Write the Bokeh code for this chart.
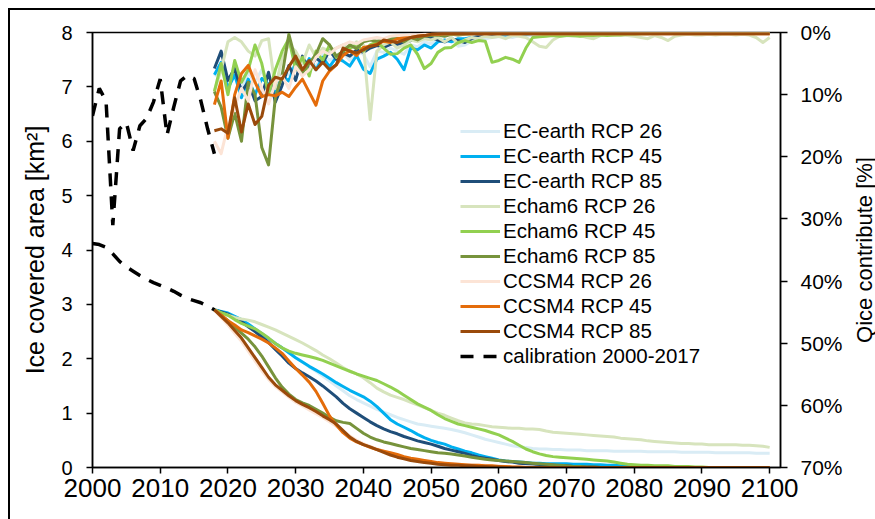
from bokeh.plotting import figure
from bokeh.layouts import row
from bokeh.models import (Range1d, LinearAxis, FixedTicker, PrintfTickFormatter,
                          Legend, LegendItem)
from bokeh.embed import file_html
from bokeh.resources import INLINE

FONT = "Liberation Sans"

model_years = list(range(2018, 2101))
cal_years = list(range(2000, 2019))
x_ticks = [2000, 2010, 2020, 2030, 2040, 2050, 2060, 2070, 2080, 2090, 2100]
area_ticks = [0, 1, 2, 3, 4, 5, 6, 7, 8]
q_ticks = [0, 10, 20, 30, 40, 50, 60, 70]

series_names = ["EC-earth RCP 26", "EC-earth RCP 45", "EC-earth RCP 85",
                "Echam6 RCP 26", "Echam6 RCP 45", "Echam6 RCP 85",
                "CCSM4 RCP 26", "CCSM4 RCP 45", "CCSM4 RCP 85"]
series_colors = ["#d9ecf5", "#00b0f0", "#1f4e79",
                 "#d7e4bd", "#92d050", "#77933c",
                 "#fce4d6", "#e46c0a", "#9a4a0b"]
cal_name = "calibration 2000-2017"

# ---- ice covered area [km2], 2018-2100 ----
ec26_area = [2.90, 2.86, 2.82, 2.76, 2.70, 2.63, 2.55, 2.47, 2.38, 2.29,
             2.20, 2.11, 2.02, 1.94, 1.85, 1.77, 1.68, 1.59, 1.50, 1.41,
             1.32, 1.25, 1.19, 1.13, 1.07, 1.02, 0.97, 0.92, 0.88, 0.84,
             0.80, 0.78, 0.76, 0.74, 0.72, 0.70, 0.67, 0.64, 0.60, 0.56,
             0.52, 0.49, 0.46, 0.43, 0.40, 0.38, 0.37, 0.35, 0.34, 0.34,
             0.33, 0.33, 0.32, 0.32, 0.32, 0.31, 0.31, 0.31, 0.31, 0.30,
             0.30, 0.30, 0.30, 0.30, 0.29, 0.29, 0.29, 0.29, 0.29, 0.28,
             0.28, 0.28, 0.28, 0.28, 0.27, 0.27, 0.27, 0.27, 0.27, 0.27,
             0.26, 0.26, 0.26]
ec45_area = [2.90, 2.87, 2.84, 2.78, 2.72, 2.64, 2.55, 2.46, 2.37, 2.28,
             2.20, 2.11, 2.02, 1.94, 1.86, 1.79, 1.72, 1.64, 1.56, 1.49,
             1.42, 1.36, 1.30, 1.22, 1.12, 1.00, 0.88, 0.80, 0.74, 0.68,
             0.61, 0.55, 0.50, 0.46, 0.43, 0.38, 0.34, 0.30, 0.27, 0.23,
             0.20, 0.17, 0.14, 0.12, 0.11, 0.10, 0.09, 0.08, 0.08, 0.07,
             0.07, 0.07, 0.07, 0.06, 0.06, 0.06, 0.05, 0.05, 0.04, 0.04,
             0.03, 0.02, 0.01, 0, 0, 0, 0, 0, 0, 0,
             0, 0, 0, 0, 0, 0, 0, 0, 0, 0,
             0, 0, 0]
ec85_area = [2.90, 2.86, 2.82, 2.75, 2.68, 2.59, 2.50, 2.40, 2.30, 2.17,
             2.05, 1.92, 1.82, 1.74, 1.67, 1.59, 1.50, 1.40, 1.30, 1.18,
             1.08, 1.00, 0.92, 0.84, 0.77, 0.71, 0.66, 0.62, 0.57, 0.53,
             0.49, 0.46, 0.43, 0.39, 0.35, 0.32, 0.29, 0.26, 0.22, 0.19,
             0.17, 0.15, 0.13, 0.11, 0.10, 0.08, 0.07, 0.06, 0.05, 0.05,
             0.04, 0.03, 0.03, 0.02, 0.02, 0.01, 0.01, 0, 0, 0,
             0, 0, 0, 0, 0, 0, 0, 0, 0, 0,
             0, 0, 0, 0, 0, 0, 0, 0, 0, 0,
             0, 0, 0]
e626_area = [2.90, 2.84, 2.80, 2.76, 2.73, 2.71, 2.68, 2.63, 2.58, 2.53,
             2.47, 2.41, 2.35, 2.29, 2.22, 2.15, 2.07, 2.00, 1.92, 1.84,
             1.77, 1.72, 1.65, 1.56, 1.46, 1.39, 1.33, 1.29, 1.25, 1.20,
             1.15, 1.10, 1.05, 1.00, 0.96, 0.91, 0.86, 0.82, 0.80, 0.79,
             0.77, 0.75, 0.74, 0.73, 0.72, 0.72, 0.71, 0.71, 0.70, 0.67,
             0.65, 0.64, 0.63, 0.62, 0.61, 0.60, 0.59, 0.58, 0.57, 0.56,
             0.54, 0.53, 0.52, 0.51, 0.49, 0.48, 0.47, 0.46, 0.45, 0.44,
             0.44, 0.43, 0.43, 0.42, 0.42, 0.42, 0.42, 0.42, 0.41, 0.41,
             0.40, 0.39, 0.37]
e645_area = [2.90, 2.85, 2.80, 2.72, 2.65, 2.60, 2.55, 2.47, 2.38, 2.28,
             2.20, 2.14, 2.10, 2.07, 2.04, 2.01, 1.97, 1.92, 1.87, 1.82,
             1.77, 1.72, 1.68, 1.64, 1.60, 1.54, 1.48, 1.41, 1.33, 1.25,
             1.17, 1.11, 1.05, 0.97, 0.90, 0.85, 0.80, 0.77, 0.74, 0.71,
             0.68, 0.64, 0.60, 0.54, 0.48, 0.41, 0.34, 0.29, 0.25, 0.22,
             0.20, 0.19, 0.18, 0.17, 0.16, 0.15, 0.14, 0.13, 0.12, 0.10,
             0.08, 0.06, 0.05, 0.04, 0.04, 0.03, 0.03, 0.03, 0.02, 0.02,
             0.02, 0.01, 0.01, 0, 0, 0, 0, 0, 0, 0,
             0, 0, 0]
e685_area = [2.90, 2.80, 2.70, 2.58, 2.47, 2.36, 2.22, 2.05, 1.85, 1.65,
             1.48, 1.35, 1.25, 1.19, 1.14, 1.07, 1.00, 0.92, 0.86, 0.83,
             0.81, 0.72, 0.63, 0.56, 0.51, 0.47, 0.44, 0.41, 0.38, 0.35,
             0.33, 0.31, 0.29, 0.27, 0.26, 0.25, 0.23, 0.21, 0.19, 0.17,
             0.15, 0.14, 0.13, 0.12, 0.11, 0.10, 0.09, 0.08, 0.07, 0.06,
             0.05, 0.04, 0.03, 0.02, 0.02, 0.01, 0.01, 0, 0, 0,
             0, 0, 0, 0, 0, 0, 0, 0, 0, 0,
             0, 0, 0, 0, 0, 0, 0, 0, 0, 0,
             0, 0, 0]
c26_area = [2.90, 2.76, 2.62, 2.47, 2.32, 2.14, 1.96, 1.78, 1.62, 1.49,
            1.39, 1.29, 1.20, 1.13, 1.06, 0.99, 0.92, 0.84, 0.76, 0.67,
            0.58, 0.50, 0.44, 0.39, 0.34, 0.30, 0.26, 0.22, 0.19, 0.16,
            0.14, 0.12, 0.10, 0.09, 0.08, 0.07, 0.06, 0.05, 0.05, 0.04,
            0.04, 0.03, 0.03, 0.02, 0.02, 0.02, 0.01, 0.01, 0, 0,
            0, 0, 0, 0, 0, 0, 0, 0, 0, 0,
            0, 0, 0, 0, 0, 0, 0, 0, 0, 0,
            0, 0, 0, 0, 0, 0, 0, 0, 0, 0,
            0, 0, 0]
c45_area = [2.90, 2.80, 2.70, 2.62, 2.53, 2.48, 2.42, 2.36, 2.29, 2.20,
            2.10, 1.96, 1.82, 1.70, 1.57, 1.40, 1.18, 0.95, 0.78, 0.64,
            0.54, 0.47, 0.42, 0.37, 0.33, 0.30, 0.27, 0.24, 0.20, 0.17,
            0.15, 0.13, 0.11, 0.09, 0.08, 0.07, 0.06, 0.05, 0.04, 0.04,
            0.03, 0.03, 0.02, 0.02, 0.01, 0.01, 0, 0, 0, 0,
            0, 0, 0, 0, 0, 0, 0, 0, 0, 0,
            0, 0, 0, 0, 0, 0, 0, 0, 0, 0,
            0, 0, 0, 0, 0, 0, 0, 0, 0, 0,
            0, 0, 0]
c85_area = [2.90, 2.78, 2.66, 2.52, 2.38, 2.20, 2.02, 1.84, 1.66, 1.52,
            1.42, 1.32, 1.23, 1.16, 1.10, 1.03, 0.95, 0.88, 0.80, 0.68,
            0.56, 0.48, 0.42, 0.38, 0.33, 0.28, 0.23, 0.19, 0.16, 0.13,
            0.11, 0.09, 0.08, 0.06, 0.05, 0.04, 0.04, 0.03, 0.03, 0.02,
            0.02, 0.01, 0.01, 0, 0, 0, 0, 0, 0, 0,
            0, 0, 0, 0, 0, 0, 0, 0, 0, 0,
            0, 0, 0, 0, 0, 0, 0, 0, 0, 0,
            0, 0, 0, 0, 0, 0, 0, 0, 0, 0,
            0, 0, 0]

# ---- Qice contribute [%], 2018-2100 (right, reversed axis) ----
ec26_q = [7.0, 6.0, 8.5, 5.5, 9.0, 6.5, 8.0, 6.0, 9.0, 8.0,
          6.5, 6.8, 5.5, 5.0, 4.5, 5.5, 3.5, 4.5, 3.8, 3.2,
          4.5, 3.0, 3.5, 5.5, 3.0, 3.2, 2.5, 3.0, 3.5, 2.0,
          2.3, 1.5, 1.8, 1.2, 1.6, 1.0, 2.2, 2.0, 1.4, 0.9,
          1.0, 0.8, 0.7, 0.6, 0.8, 0.5, 0.6, 0.4, 0.5, 0.4,
          0.3, 0.3, 0.4, 0.3, 0.3, 0.3, 0.2, 0.3, 0.2, 0.3,
          0.2, 0.2, 0.2, 0.2, 0.2, 0.2, 0.2, 0.2, 0.1, 0.2,
          0.1, 0.1, 0.2, 0.1, 0.1, 0.1, 0.1, 0.1, 0.1, 0.1,
          0.1, 0.1, 0.1]
ec45_q = [6.8, 4.8, 9.0, 6.8, 10.5, 7.5, 10.0, 7.4, 8.3, 9.5,
          7.0, 7.8, 4.8, 6.5, 4.2, 6.0, 4.0, 5.5, 4.0, 4.6,
          5.4, 3.7, 5.9, 6.6, 4.3, 3.8, 3.2, 4.3, 6.0, 2.5,
          2.8, 2.0, 2.5, 1.5, 1.2, 1.5, 1.0, 1.0, 0.8, 0.6,
          0.5, 0.5, 0.4, 0.4, 0.3, 0.3, 0.3, 0.2, 0.2, 0.1,
          0.1, 0.1, 0.1, 0.1, 0.1, 0.1, 0.1, 0.1, 0.1, 0.1,
          0.1, 0.1, 0.1, 0.1, 0.1, 0.1, 0.1, 0.1, 0.1, 0.1,
          0.1, 0.1, 0.1, 0.1, 0.1, 0.1, 0.1, 0.1, 0.1, 0.1,
          0.1, 0.1, 0.1]
ec85_q = [5.8, 3.0, 7.7, 5.8, 9.5, 8.0, 11.0, 10.3, 6.4, 11.2,
          8.5, 5.3, 7.7, 3.8, 5.9, 4.1, 4.9, 2.9, 4.3, 3.3,
          3.8, 2.8, 3.2, 2.5, 2.1, 2.4, 1.9, 1.9, 1.7, 1.3,
          1.0, 0.8, 0.8, 1.2, 1.5, 1.0, 1.3, 1.6, 1.0, 0.6,
          0.4, 0.3, 0.2, 0.2, 0.2, 0.1, 0.1, 0.1, 0.1, 0.1,
          0.1, 0.1, 0.1, 0.1, 0.1, 0.1, 0.1, 0.1, 0.1, 0.1,
          0.1, 0.1, 0.1, 0.1, 0.1, 0.1, 0.1, 0.1, 0.1, 0.1,
          0.1, 0.1, 0.1, 0.1, 0.1, 0.1, 0.1, 0.1, 0.1, 0.1,
          0.1, 0.1, 0.1]
e626_q = [9.4, 6.0, 1.5, 0.8, 1.5, 3.0, 3.8, 1.3, 1.0, 9.0,
          4.0, 2.0, 3.0, 5.0, 2.0, 4.0, 2.5, 3.0, 2.5, 2.0,
          2.8, 1.5, 2.0, 14.0, 3.0, 2.0, 1.5, 2.5, 2.0, 1.2,
          1.5, 1.0, 1.2, 0.8, 1.5, 0.8, 1.8, 1.2, 0.8, 1.0,
          0.6, 0.8, 0.6, 1.0, 0.5, 0.6, 0.8, 1.5, 2.2, 2.4,
          1.2, 0.6, 0.5, 0.6, 0.5, 0.8, 1.0, 0.5, 0.4, 0.5,
          0.4, 0.5, 0.6, 0.8, 1.0, 0.5, 0.8, 1.3, 0.6, 0.4,
          0.3, 0.4, 0.4, 0.3, 0.4, 0.3, 0.3, 0.4, 0.3, 0.4,
          0.8, 1.6, 0.8]
e645_q = [9.5, 5.0, 10.0, 4.5, 8.0, 6.0, 2.0, 5.0, 10.0, 6.0,
          3.0, 1.0, 6.0, 4.0, 7.0, 3.0, 4.5, 2.0, 4.0, 3.0,
          2.5, 2.0, 3.0, 2.0, 1.5, 2.5, 3.5, 3.4, 2.5, 2.0,
          3.5, 5.8, 5.0, 3.2, 2.5, 2.4, 1.6, 1.3, 1.6, 1.3,
          1.4, 4.8, 4.5, 4.0, 4.3, 4.8, 2.5, 0.8, 0.7, 0.6,
          0.5, 0.6, 0.5, 0.5, 0.6, 0.5, 0.5, 0.4, 0.5, 0.4,
          0.4, 0.3, 0.3, 0.2, 0.2, 0.1, 0.1, 0.1, 0.1, 0.1,
          0.1, 0.1, 0.1, 0.1, 0.1, 0.1, 0.1, 0.1, 0.1, 0.1,
          0.1, 0.1, 0.1]
e685_q = [9.5, 12.0, 17.0, 13.0, 17.5, 8.0, 10.0, 18.5, 21.3, 10.5,
          6.9, 0.3, 4.5, 6.5, 5.0, 3.5, 1.0, 2.0, 3.8, 3.0,
          2.0, 2.6, 1.5, 1.2, 1.4, 1.2, 1.0, 0.9, 1.5, 0.8,
          1.2, 0.6, 0.5, 0.4, 0.6, 0.3, 0.4, 0.3, 0.2, 0.1,
          0.1, 0.1, 0.1, 0.1, 0.1, 0.1, 0.1, 0.1, 0.1, 0.1,
          0.1, 0.1, 0.1, 0.1, 0.1, 0.1, 0.1, 0.1, 0.1, 0.1,
          0.1, 0.1, 0.1, 0.1, 0.1, 0.1, 0.1, 0.1, 0.1, 0.1,
          0.1, 0.1, 0.1, 0.1, 0.1, 0.1, 0.1, 0.1, 0.1, 0.1,
          0.1, 0.1, 0.1]
c26_q = [17.5, 19.5, 15.0, 12.0, 9.0, 11.0, 6.0, 9.0, 11.5, 8.0,
         7.0, 9.0, 5.5, 7.0, 6.0, 4.0, 3.0, 3.5, 2.5, 2.0,
         1.5, 1.8, 1.2, 1.0, 0.8, 1.0, 0.6, 0.5, 0.5, 0.4,
         0.4, 0.3, 0.3, 0.2, 0.2, 0.2, 0.2, 0.2, 0.2, 0.2,
         0.2, 0.2, 0.2, 0.2, 0.2, 0.2, 0.2, 0.2, 0.2, 0.2,
         0.2, 0.2, 0.2, 0.2, 0.2, 0.2, 0.2, 0.2, 0.2, 0.2,
         0.2, 0.2, 0.2, 0.2, 0.2, 0.2, 0.2, 0.2, 0.2, 0.2,
         0.2, 0.2, 0.2, 0.2, 0.2, 0.2, 0.2, 0.2, 0.2, 0.2,
         0.2, 0.2, 0.2]
c45_q = [11.6, 7.8, 17.0, 10.0, 6.6, 5.3, 8.0, 10.3, 10.0, 10.2,
         9.6, 10.3, 8.8, 7.5, 9.6, 11.7, 7.8, 6.2, 5.2, 3.7,
         2.9, 3.7, 2.4, 2.2, 1.9, 1.4, 1.6, 1.0, 0.9, 0.8,
         0.6, 0.5, 0.3, 0.3, 0.2, 0.2, 0.2, 0.2, 0.2, 0.2,
         0.2, 0.2, 0.2, 0.2, 0.2, 0.2, 0.2, 0.2, 0.2, 0.2,
         0.2, 0.2, 0.2, 0.2, 0.2, 0.2, 0.2, 0.2, 0.2, 0.2,
         0.2, 0.2, 0.2, 0.2, 0.2, 0.2, 0.2, 0.2, 0.2, 0.2,
         0.2, 0.2, 0.2, 0.2, 0.2, 0.2, 0.2, 0.2, 0.2, 0.2,
         0.2, 0.2, 0.2]
c85_q = [15.8, 15.5, 16.2, 10.5, 16.0, 11.5, 14.8, 13.5, 8.5, 7.2,
         7.5, 5.5, 3.8, 6.0, 4.5, 6.0, 4.8, 6.0, 5.2, 2.5,
         3.0, 3.3, 2.8, 2.2, 2.0, 1.2, 1.4, 1.6, 1.2, 0.8,
         0.6, 0.5, 0.3, 0.2, 0.2, 0.2, 0.2, 0.2, 0.2, 0.2,
         0.2, 0.2, 0.2, 0.2, 0.2, 0.2, 0.2, 0.2, 0.2, 0.2,
         0.2, 0.2, 0.2, 0.2, 0.2, 0.2, 0.2, 0.2, 0.2, 0.2,
         0.2, 0.2, 0.2, 0.2, 0.2, 0.2, 0.2, 0.2, 0.2, 0.2,
         0.2, 0.2, 0.2, 0.2, 0.2, 0.2, 0.2, 0.2, 0.2, 0.2,
         0.2, 0.2, 0.2]

# ---- calibration 2000-2018 ----
cal_area = [4.12, 4.10, 4.05, 3.93, 3.79, 3.69, 3.61, 3.53, 3.46, 3.40,
            3.35, 3.30, 3.24, 3.17, 3.11, 3.07, 3.03, 2.97, 2.90]
cal_q = [13.4, 9.0, 11.0, 31.0, 15.5, 14.5, 19.0, 15.0, 13.8, 11.2,
         7.5, 16.5, 12.0, 7.8, 6.9, 7.4, 11.0, 15.5, 19.5]

area_series = [ec26_area, ec45_area, ec85_area, e626_area, e645_area,
               e685_area, c26_area, c45_area, c85_area]
q_series = [ec26_q, ec45_q, ec85_q, e626_q, e645_q, e685_q, c26_q, c45_q, c85_q]

fig = figure(frame_width=688, frame_height=435,
             x_range=Range1d(2000, 2101.6), y_range=Range1d(0, 8),
             output_backend="svg", toolbar_location=None,
             min_border_left=92, min_border_right=68,
             min_border_top=32, min_border_bottom=52,
             background_fill_color="white", border_fill_color=None)
fig.extra_y_ranges = {"q": Range1d(start=70, end=0)}
# outer chart border (left & top edges), painted behind the transparent canvas border
fig.styles = {"box-shadow": "inset 8px 8px 0 0 white, inset 10px 10px 0 0 black"}
fig.xgrid.grid_line_color = None
fig.ygrid.grid_line_color = None
fig.outline_line_color = "black"
fig.outline_line_width = 1.5

# x axis
xa = fig.xaxis[0]
xa.ticker = FixedTicker(ticks=x_ticks)
xa.formatter = PrintfTickFormatter(format="%d")
xa.major_label_text_font = FONT
xa.major_label_text_font_size = "26px"
xa.major_label_text_color = "black"
xa.major_label_standoff = 5
xa.axis_line_color = "black"
xa.axis_line_width = 1.5
xa.major_tick_line_color = "black"
xa.major_tick_line_width = 1.5
xa.major_tick_in = 0
xa.major_tick_out = 6
xa.minor_tick_line_color = None

# left axis
ya = fig.yaxis[0]
ya.ticker = FixedTicker(ticks=area_ticks)
ya.major_label_text_font = FONT
ya.major_label_text_font_size = "20px"
ya.major_label_text_color = "black"
ya.major_label_standoff = 14
ya.axis_line_color = "black"
ya.axis_line_width = 1.5
ya.major_tick_line_color = "black"
ya.major_tick_line_width = 1.5
ya.major_tick_in = 0
ya.major_tick_out = 6
ya.minor_tick_line_color = None
ya.axis_label = "Ice covered area [km²]"
ya.axis_label_text_font = FONT
ya.axis_label_text_font_size = "25px"
ya.axis_label_text_font_style = "normal"
ya.axis_label_text_color = "black"
ya.axis_label_standoff = 9

# right axis (reversed 0% .. 70%)
ra = LinearAxis(y_range_name="q", ticker=FixedTicker(ticks=q_ticks),
                formatter=PrintfTickFormatter(format="%d%%"))
ra.major_label_text_font = FONT
ra.major_label_text_font_size = "21px"
ra.major_label_text_color = "black"
ra.major_label_standoff = 13
ra.axis_line_color = "black"
ra.axis_line_width = 1.5
ra.major_tick_line_color = "black"
ra.major_tick_line_width = 1.5
ra.major_tick_in = 0
ra.major_tick_out = 7
ra.minor_tick_line_color = None
fig.add_layout(ra, "right")

items = []
for name, color, vals in zip(series_names, series_colors, area_series):
    r = fig.line(model_years, vals, line_color=color, line_width=3, line_join="round")
    items.append(LegendItem(label=name, renderers=[r]))
r_cal = fig.line(cal_years, cal_area, line_color="black", line_width=3.5,
                 line_dash="13 10")
items.append(LegendItem(label=cal_name, renderers=[r_cal]))

for color, vals in zip(series_colors, q_series):
    fig.line(model_years, vals, y_range_name="q", line_color=color, line_width=3,
             line_join="round")
fig.line(cal_years, cal_q, y_range_name="q", line_color="black", line_width=3.5,
         line_dash="13 10")

legend = Legend(items=items, location=(368, 99), padding=0, margin=0, spacing=1,
                glyph_width=40, glyph_height=20, label_height=20, label_standoff=3,
                label_text_font=FONT, label_text_font_size="20.5px",
                label_text_color="black",
                background_fill_alpha=0, border_line_alpha=0)
fig.add_layout(legend)

# narrow strip to the right that carries the secondary axis title (reads bottom-to-top)
side = figure(frame_width=1, frame_height=435, x_range=Range1d(0, 1),
              y_range=Range1d(0, 1), output_backend="svg", toolbar_location=None,
              min_border_left=0, min_border_right=0,
              min_border_top=32, min_border_bottom=52,
              background_fill_color=None, border_fill_color=None)
side.styles = {"box-shadow": "inset 0 8px 0 0 white, inset 0 10px 0 0 black"}
side.outline_line_color = None
side.xgrid.grid_line_color = None
side.ygrid.grid_line_color = None
side.xaxis.visible = False
sa = side.yaxis[0]
sa.ticker = FixedTicker(ticks=[])
sa.axis_line_color = None
sa.major_tick_line_color = None
sa.minor_tick_line_color = None
sa.major_label_standoff = 0
sa.major_tick_out = 0
sa.axis_label = "Qice contribute [%]"
sa.axis_label_text_font = FONT
sa.axis_label_text_font_size = "22px"
sa.axis_label_text_font_style = "normal"
sa.axis_label_text_color = "black"
sa.axis_label_standoff = 0

p = row(fig, side, spacing=0)

open("out.html", "w").write(file_html(p, INLINE))
